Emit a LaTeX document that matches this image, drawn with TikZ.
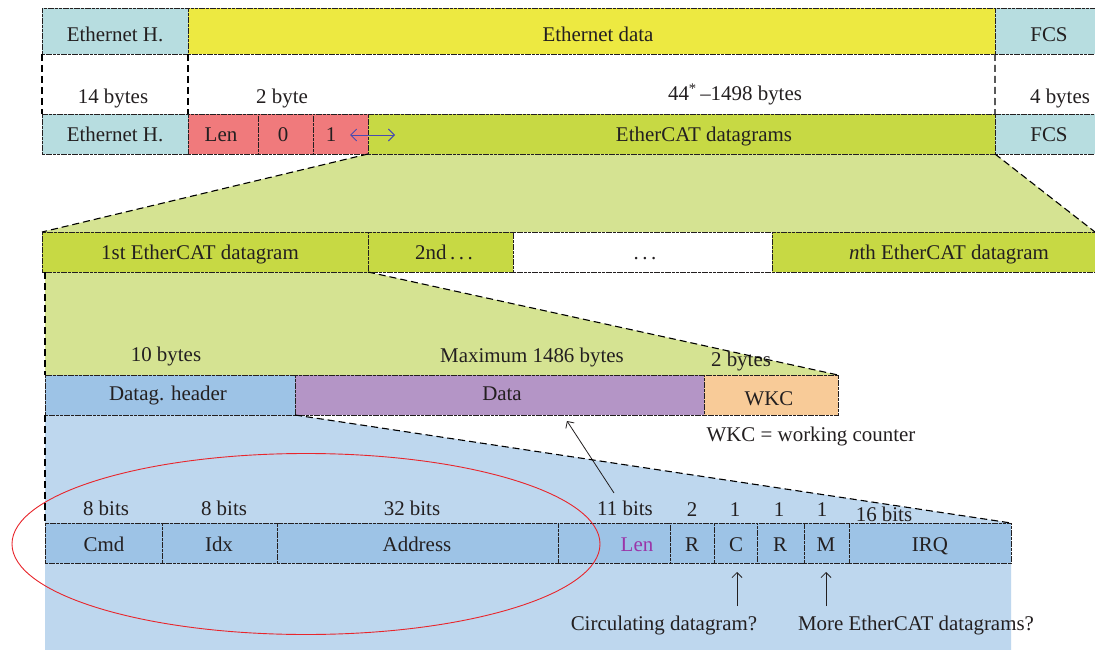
\documentclass[tikz,border=0pt]{standalone}
\usepackage{fontspec}
\setmainfont{Liberation Serif}
\usetikzlibrary{calc,arrows.meta,backgrounds}

\definecolor{ink}{HTML}{231F20}
\definecolor{hdrcyan}{HTML}{B7DDE0}
\definecolor{ethyellow}{HTML}{EDE941}
\definecolor{salmon}{HTML}{F07A7C}
\definecolor{olive}{HTML}{C7D944}
\definecolor{palegreen}{HTML}{D5E392}
\definecolor{fieldblue}{HTML}{9DC3E6}
\definecolor{paleblue}{HTML}{BED7EE}
\definecolor{lilac}{HTML}{B495C6}
\definecolor{peach}{HTML}{F8CB98}
\definecolor{lenpurple}{HTML}{9A35A8}
\definecolor{arrowblue}{HTML}{4A4AB0}
\definecolor{ringred}{HTML}{E8262C}

\newcommand\figfont{\fontsize{21}{25}\selectfont}
% field box: name, fill, left x, top y, width, height
\newcommand\fieldat[6]{\node[field,fill=#2,minimum width=#5bp,minimum height=#6bp] (#1) at (#3,#4) {};}

\tikzset{
  field/.style={draw=ink, line width=0.9bp, dash pattern=on 3bp off 0.7bp,
    anchor=north west, inner sep=0pt, outer sep=0pt},
  txt/.style={anchor=base, inner sep=0pt, font=\figfont, text=ink},
  zoomline/.style={draw=black, line width=1.1bp, dash pattern=on 7bp off 4bp},
  pointer/.style={draw=ink, line width=0.8bp, -{Straight Barb[length=5bp,width=10bp]}},
}

\begin{document}
\begin{tikzpicture}[x=1bp,y=-1bp]
\useasboundingbox (0,0) rectangle (1095,650);
\clip (0,0) rectangle (1095,650);

% Ethernet frame
\fieldat{eh1}{hdrcyan}{42}{8}{146}{46}
\fieldat{ed}{ethyellow}{188}{8}{807}{46}
\fieldat{fcs1}{hdrcyan}{995}{8}{109}{46}
\node[txt] (t-eh1) at (115,42) {Ethernet H.};
\node[txt] (t-ed) at (598,42) {Ethernet data};
\node[txt] (t-fcs1) at (1049,42) {FCS};

% byte counts
\node[txt] (b14) at (113,103.5) {14 bytes};
\node[txt] (b2) at (282,103.5) {2 byte};
\node[txt] (b44) at (735,101) {44\textsuperscript{*}\,–1498 bytes};
\node[txt] (b4) at (1060,103.5) {4 bytes};

% EtherCAT frame
\fieldat{eh2}{hdrcyan}{42}{114}{146}{40}
\fieldat{len}{salmon}{188}{114}{70}{40}
\fieldat{zero}{salmon}{258}{114}{55}{40}
\fieldat{one}{salmon}{313}{114}{55}{40}
\fieldat{ecd}{olive}{368}{114}{627}{40}
\fieldat{fcs2}{hdrcyan}{995}{114}{109}{40}
\node[txt] (t-eh2) at (115,141.5) {Ethernet H.};
\node[txt] (t-len) at (221,141.5) {Len};
\node[txt] (t-zero) at (283,141.5) {0};
\node[txt] (t-one) at (331,141.5) {1};
\node[txt] (t-ecd) at (704,141.5) {EtherCAT datagrams};
\node[txt] (t-fcs2) at (1049,141.5) {FCS};
\coordinate (dblL) at (350,135);
\coordinate (dblR) at (395,135);
\draw[arrowblue, line width=0.9bp, {Straight Barb[length=6bp,width=12bp]}-{Straight Barb[length=6bp,width=12bp]}] (dblL) -- (dblR);

% datagram sequence
\fieldat{d1}{olive}{42}{232}{326}{40}
\fieldat{d2}{olive}{368}{232}{145}{40}
\fieldat{dots}{white}{513}{232}{259}{40}
\fieldat{dn}{olive}{772}{232}{354}{40}
\node[txt] (t-d1) at (200,259.3) {1st EtherCAT datagram};
\node[txt] (t-d2) at (444,259.3) {2nd\,.\,.\,.};
\node[txt] (t-dots) at (645,259.3) {.\,.\,.};
\node[txt] (t-dn) at (949,259.3) {\textit{n}th EtherCAT datagram};
\coordinate (zoomR) at (1095,232);

% one datagram
\fieldat{hdr}{fieldblue}{45}{375}{250}{40}
\fieldat{data}{lilac}{295}{375}{409}{40}
\fieldat{wkc}{peach}{704}{375}{134}{40}
\node[txt] (t-hdr) at (168,400) {Datag. header};
\node[txt] (t-data) at (502,400) {Data};
\node[txt] (t-wkc) at (769,405) {WKC};
\node[txt] (b10) at (166,361.7) {10 bytes};
\node[txt] (bmax) at (532,362) {Maximum 1486 bytes};
\node[txt] (b2w) at (741,366.7) {2 bytes};
\node[txt] (wkcnote) at (811,441.7) {WKC = working counter};

% datagram header fields
\fieldat{cmd}{fieldblue}{45}{523}{117}{40}
\fieldat{idx}{fieldblue}{162}{523}{115}{40}
\fieldat{addr}{fieldblue}{277}{523}{281}{40}
\fieldat{lenf}{fieldblue}{558}{523}{112}{40}
\fieldat{r1}{fieldblue}{670}{523}{44}{40}
\fieldat{c}{fieldblue}{714}{523}{43}{40}
\fieldat{r2}{fieldblue}{757}{523}{47}{40}
\fieldat{m}{fieldblue}{804}{523}{45}{40}
\fieldat{irq}{fieldblue}{849}{523}{162}{40}
\node[txt] (t-cmd) at (104,551.5) {Cmd};
\node[txt] (t-idx) at (219,551.5) {Idx};
\node[txt] (t-addr) at (417,551.5) {Address};
\node[txt, text=lenpurple] (t-lenf) at (637,551.5) {Len};
\node[txt] (t-r1) at (692,551.5) {R};
\node[txt] (t-c) at (736,551.5) {C};
\node[txt] (t-r2) at (780,551.5) {R};
\node[txt] (t-m) at (826,551.5) {M};
\node[txt] (t-irq) at (930,551.5) {IRQ};

\node[txt] (s-cmd) at (106,515) {8 bits};
\node[txt] (s-idx) at (224,515) {8 bits};
\node[txt] (s-addr) at (412,515) {32 bits};
\node[txt] (s-len) at (625,515) {11 bits};
\node[txt] (s-r1) at (692,516) {2};
\node[txt] (s-c) at (735,516) {1};
\node[txt] (s-r2) at (779,516) {1};
\node[txt] (s-m) at (822,516) {1};
\node[txt] (s-irq) at (884,521.7) {16 bits};

\node[txt] (q-circ) at (664,630) {Circulating datagram?};
\node[txt] (q-more) at (916,630) {More EtherCAT datagrams?};

% pointers
\coordinate (lenfrom) at (614,493);
\coordinate (lento) at (567,421);
\draw[pointer] (lenfrom) -- (lento);
\coordinate (cfrom) at (737,606);
\coordinate (mfrom) at (826,606);
\draw[pointer] (cfrom) -- (cfrom |- 0,572);
\draw[pointer] (mfrom) -- (mfrom |- 0,572);

% zoom outlines
\draw[zoomline] (eh1.south west) -- (eh2.north west);
\draw[zoomline] (eh1.south east) -- (eh2.north east);
\draw[zoomline] (ed.south east) -- (ecd.north east);
\draw[zoomline] (one.south east) -- (d1.north west);
\draw[zoomline] (ecd.south east) -- (zoomR);
\draw[zoomline] (hdr.north west |- d1.south) -- (hdr.north west);
\draw[zoomline] (d1.south east) -- (wkc.north east);
\draw[zoomline] (hdr.south west) -- (cmd.north west);
\draw[zoomline] (hdr.south east) -- (irq.north east);

% highlighted header part
\draw[ringred, line width=0.9bp] (306,544) ellipse [x radius=294, y radius=90.5];

\begin{pgfonlayer}{background}
  \fill[white] (0,0) rectangle (1095,650);
  \fill[palegreen] (one.south east) -- (ecd.south east) -- (zoomR) -- (d1.north west) -- cycle;
  \fill[palegreen] (hdr.north west |- d1.south) -- (d1.south east) -- (wkc.north east) -- (hdr.north west) -- cycle;
  \fill[paleblue] (hdr.south west) -- (hdr.south east) -- (irq.north east) -- (irq.north east |- 0,650) -- (hdr.south west |- 0,650) -- cycle;
\end{pgfonlayer}
\end{tikzpicture}
\end{document}
